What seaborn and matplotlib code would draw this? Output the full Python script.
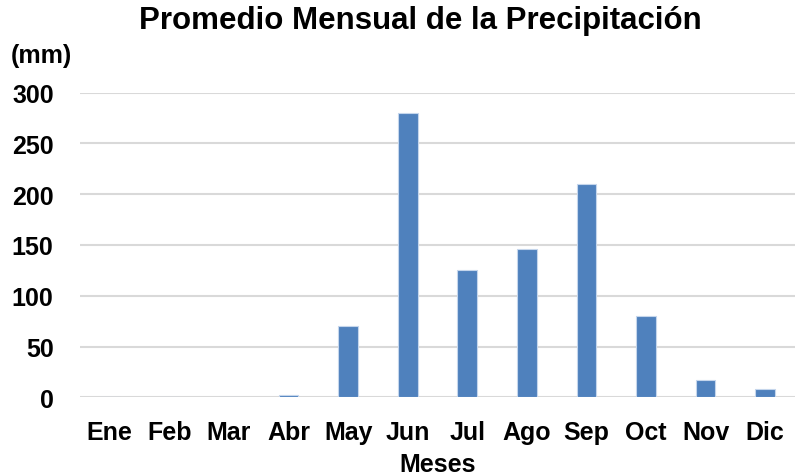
import matplotlib
matplotlib.use("Agg")
import matplotlib.pyplot as plt
import seaborn as sns
import pandas as pd

meses = ["Ene", "Feb", "Mar", "Abr", "May", "Jun", "Jul", "Ago", "Sep", "Oct", "Nov", "Dic"]
precipitacion = [0, 0, 0, 2, 70, 280, 125, 146, 210, 80, 17, 8]
yticks = [0, 50, 100, 150, 200, 250, 300]

sns.set_theme(style="white")
plt.rcParams['font.family'] = ['Liberation Sans', 'DejaVu Sans']
plt.rcParams['font.weight'] = 'bold'
plt.rcParams['text.color'] = 'black'
plt.rcParams['xtick.color'] = 'black'
plt.rcParams['ytick.color'] = 'black'
plt.rcParams['axes.labelcolor'] = 'black'

df = pd.DataFrame({"Mes": meses, "mm": precipitacion})

fig = plt.figure(figsize=(7.95, 4.77), dpi=100)
ax = fig.add_axes([80/795, 1-398.3/477, 1-80/795, (398.3-93.7)/477])

sns.barplot(data=df, x="Mes", y="mm", order=meses, color="#4F81BD", width=0.33,
            edgecolor="#C5D6EC", linewidth=0.8, saturation=1, ax=ax, zorder=3)

ax.set_ylim(0, 300)
ax.set_xlim(-0.5, 11.5)
ax.set_yticks(yticks)
ax.set_yticklabels([str(v) for v in yticks], fontsize=18, fontweight='bold')
ax.set_xticklabels(meses, fontsize=18, fontweight='bold')
ax.tick_params(axis='both', length=0)
ax.tick_params(axis='y', pad=19)
ax.tick_params(axis='x', pad=16)
ax.yaxis.grid(True, color="#D9D9D9", linewidth=1.5, zorder=0)
ax.set_axisbelow(True)
for s in ax.spines.values():
    s.set_visible(False)

ax.set_xlabel("Meses", fontsize=18, fontweight='bold', labelpad=6)
ax.set_ylabel("")
fig.text(11/795, 1-56/477, "(mm)", fontsize=18, fontweight='bold', ha='left', va='center')
fig.text(420/795, 1-21/477, "Promedio Mensual de la Precipitación", fontsize=22.5,
         fontweight='bold', ha='center', va='center')

fig.savefig("out.png", dpi=100)
